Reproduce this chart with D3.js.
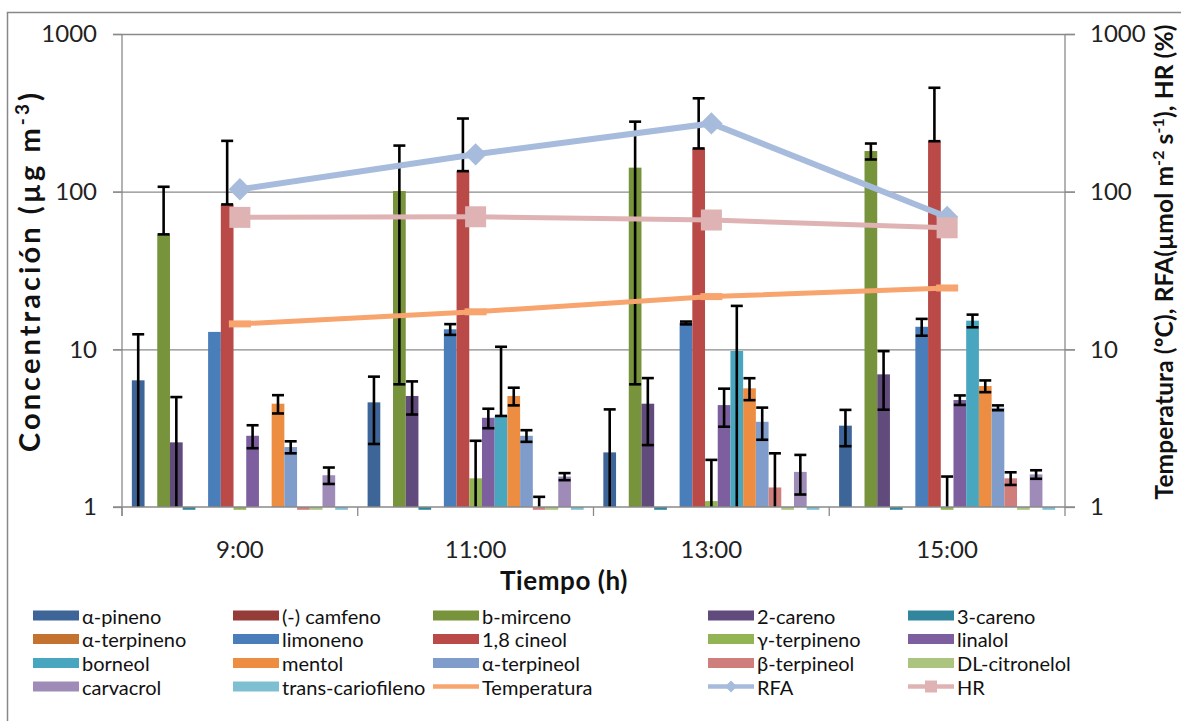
<!DOCTYPE html>
<html><head><meta charset="utf-8">
<script src="https://cdn.jsdelivr.net/npm/d3@7"></script>
<style>body{margin:0;background:#fff;} svg{display:block;}</style>
</head><body>
<svg id="chart" width="1181" height="721"></svg>
<script>
// ---------- DATA ----------
const times = ["9:00", "11:00", "13:00", "15:00"];
const compounds = ["α-pineno", "(-) camfeno", "b-mirceno", "2-careno", "3-careno",
  "α-terpineno", "limoneno", "1,8 cineol", "γ-terpineno", "linalol",
  "borneol", "mentol", "α-terpineol", "β-terpineol", "DL-citronelol",
  "carvacrol", "trans-cariofileno"];
const compoundColors = ["#3E6597", "#953B38", "#77933C", "#614A7C", "#31869D",
  "#C4722F", "#4A7EBB", "#BA4A48", "#93B454", "#7D5FA0",
  "#48A6BF", "#EC8D42", "#7F9CCB", "#D07E7C", "#ABC47F",
  "#9F8BB8", "#7FBFD2"];
// concentrations (µg m-3) per hour, in compound order (null = not shown)
const values0900 = [6.36, null, 53.6, 2.57, 0.96, null, 12.9, 83, 0.96, 2.83, null, 4.52, 2.40, 0.96, 0.96, 1.59, 0.96];
const values1100 = [4.61, null, 101, 5.06, 0.96, null, 13.4, 135, 1.52, 3.68, 3.78, 5.06, 2.83, 0.96, 0.96, 1.56, 0.96];
const values1300 = [2.22, null, 142, 4.52, 0.96, null, 14.7, 188, 1.09, 4.43, 9.76, 5.66, 3.47, 1.33, 0.96, 1.67, 0.96];
const values1500 = [3.28, null, 181, 6.94, 0.96, null, 13.9, 209, 0.96, 4.77, 15.2, 5.85, 4.26, 1.52, 0.96, 1.61, 0.96];
// error bar half-lengths
const errors0900 = [6.1, 0, 53.8, 2.41, 0, 0, 0, 127, 0, 0.47, 0, 0.6, 0.21, 0, 0, 0.19, 0];
const errors1100 = [2.1, 0, 95, 1.2, 0, 0, 1.05, 156, 1.11, 0.52, 6.6, 0.65, 0.24, 0.2, 0, 0.08, 0];
const errors1300 = [1.94, 0, 136, 2.05, 0, 0, 0.3, 203, 0.9, 1.2, 9.1, 0.9, 0.8, 0.86, 0, 0.47, 0];
const errors1500 = [0.85, 0, 21, 2.8, 0, 0, 1.7, 247, 0.6, 0.33, 1.4, 0.5, 0.15, 0.14, 0, 0.1, 0];
// line series (right axis)
const temperatura = [14.5, 17.3, 21.6, 24.5];
const rfa = [103.5, 172.5, 271, 69];
const hr = [68.7, 69.3, 66.1, 59.0];
const yTicks = [1, 10, 100, 1000];

const valuesByTime = [values0900, values1100, values1300, values1500];
const errorsByTime = [errors0900, errors1100, errors1300, errors1500];

// ---------- LAYOUT ----------
(function () {
const svg = d3.select("#chart");
const font = "Lato, 'Open Sans', sans-serif";
const pL = 122, pR = 1065, pT = 34, pB = 507;
const gridColor = "#8A8A8A";

svg.append("rect").attr("x", 0).attr("y", 0).attr("width", 1181).attr("height", 721).attr("fill", "#fff");
svg.append("rect").attr("x", 7.5).attr("y", 12.5).attr("width", 1185).attr("height", 720)
  .attr("fill", "none").attr("stroke", "#888").attr("stroke-width", 1.5);

const x0 = d3.scaleBand().domain(times).range([pL, pR]).paddingInner(0).paddingOuter(0);
const x1 = d3.scaleBand().domain(d3.range(compounds.length)).range([0, x0.bandwidth()])
  .paddingInner(0).paddingOuter(0.775);
const y = d3.scaleLog().domain([1, 1000]).range([pB, pT]);
const yR = d3.scaleLog().domain([1, 1000]).range([pB, pT]);

// gridlines
const grid = svg.append("g").attr("transform", `translate(${pL - 9},0)`)
  .call(d3.axisRight(y).tickValues(yTicks.slice(1)).tickSize(pR + 10 - (pL - 9)).tickFormat(""));
grid.select(".domain").remove();
grid.selectAll("line").attr("stroke", gridColor).attr("stroke-width", 1.3);

// bars
const barData = [];
times.forEach((t, ti) => {
  compounds.forEach((c, ci) => {
    const v = valuesByTime[ti][ci];
    if (v == null) return;
    barData.push({t, ci, v, e: errorsByTime[ti][ci]});
  });
});
svg.append("g").selectAll("rect").data(barData).join("rect")
  .attr("x", d => x0(d.t) + x1(d.ci))
  .attr("width", x1.bandwidth())
  .attr("y", d => Math.min(y(d.v), y(1)))
  .attr("height", d => Math.abs(y(d.v) - y(1)))
  .attr("fill", d => compoundColors[d.ci]);

// error bars
const eg = svg.append("g").attr("stroke", "#000").attr("stroke-width", 2.6);
barData.filter(d => d.e > 0).forEach(d => {
  const cx = x0(d.t) + x1(d.ci) + x1.bandwidth() / 2;
  const hw = 6;
  const yHi = y(d.v + d.e);
  const lo = d.v - d.e;
  let yLo, loCap;
  if (lo <= 0) { yLo = y(d.v); loCap = true; }
  else if (lo < 1) { yLo = y(1); loCap = false; }
  else { yLo = y(lo); loCap = true; }
  eg.append("line").attr("x1", cx).attr("x2", cx).attr("y1", yHi).attr("y2", yLo);
  eg.append("line").attr("x1", cx - hw).attr("x2", cx + hw).attr("y1", yHi).attr("y2", yHi);
  if (loCap) eg.append("line").attr("x1", cx - hw).attr("x2", cx + hw).attr("y1", yLo).attr("y2", yLo);
});

// axes lines
const ax = svg.append("g").attr("stroke", gridColor).attr("stroke-width", 1.3);
ax.append("line").attr("x1", pL).attr("x2", pL).attr("y1", pT).attr("y2", pB + 9);
ax.append("line").attr("x1", pR).attr("x2", pR).attr("y1", pT).attr("y2", pB + 9);
ax.append("line").attr("x1", pL - 9).attr("x2", pR + 10).attr("y1", pB).attr("y2", pB);
times.forEach(t => ax.append("line").attr("x1", x0(t)).attr("x2", x0(t)).attr("y1", pB).attr("y2", pB + 9));

// left axis labels
const yl = svg.append("g").attr("transform", `translate(${pL},0)`)
  .call(d3.axisLeft(y).tickValues(yTicks).tickFormat(d3.format("d")).tickSize(9).tickPadding(16));
yl.select(".domain").remove();
yl.selectAll("line").attr("stroke", gridColor).attr("stroke-width", 1.3);
yl.selectAll("text").attr("font-family", font).attr("font-size", 24).attr("fill", "#222");

// right axis labels
const yr = svg.append("g").attr("transform", `translate(${pR},0)`)
  .call(d3.axisRight(yR).tickValues(yTicks).tickFormat(d3.format("d")).tickSize(10).tickPadding(15));
yr.select(".domain").remove();
yr.selectAll("line").attr("stroke", gridColor).attr("stroke-width", 1.3);
yr.selectAll("text").attr("font-family", font).attr("font-size", 24).attr("fill", "#222");

// x labels
const xl = svg.append("g").attr("transform", `translate(0,${pB})`)
  .call(d3.axisBottom(x0).tickSize(0).tickPadding(34));
xl.select(".domain").remove();
xl.selectAll("text").attr("font-family", font).attr("font-size", 24).attr("fill", "#222");

// lines
const cxOf = i => x0(times[i]) + x0.bandwidth() / 2;
const line = d3.line().x((d, i) => cxOf(i)).y(d => yR(d));
svg.append("path").datum(temperatura).attr("d", line).attr("fill", "none")
  .attr("stroke", "#F8A46E").attr("stroke-width", 5);
svg.append("g").selectAll("rect").data(temperatura).join("rect")
  .attr("x", (d, i) => cxOf(i) - 11).attr("y", d => yR(d) - 3.5).attr("width", 22).attr("height", 7)
  .attr("fill", "#F8A46E");
svg.append("path").datum(rfa).attr("d", line).attr("fill", "none")
  .attr("stroke", "#A7BBDC").attr("stroke-width", 6);
svg.append("g").selectAll("path").data(rfa).join("path")
  .attr("d", d3.symbol(d3.symbolDiamond2 || d3.symbolDiamond, 320))
  .attr("transform", (d, i) => `translate(${cxOf(i)},${yR(d)})`)
  .attr("fill", "#A7BBDC");
svg.append("path").datum(hr).attr("d", line).attr("fill", "none")
  .attr("stroke", "#DFB3B3").attr("stroke-width", 5);
svg.append("g").selectAll("rect").data(hr).join("rect")
  .attr("x", (d, i) => cxOf(i) - 10.5).attr("y", d => yR(d) - 10.5).attr("width", 21).attr("height", 21)
  .attr("fill", "#DFB3B3");

// titles
function fitSpacing(sel, target, nChars) {
  const len = sel.node().getComputedTextLength();
  if (len > 0) sel.attr("letter-spacing", (target - len) / nChars);
}
const lt = svg.append("text").attr("transform", "translate(40,271) rotate(-90)")
  .attr("text-anchor", "middle").attr("font-family", font).attr("font-weight", "bold")
  .attr("font-size", 29).attr("fill", "#111");
lt.append("tspan").text("Concentración (µg m");
lt.append("tspan").attr("baseline-shift", "super").attr("font-size", "65%").text("-3");
lt.append("tspan").text(")");
fitSpacing(lt, 362, 22);

const rt = svg.append("text").attr("transform", "translate(1173,262) rotate(-90)")
  .attr("text-anchor", "middle").attr("font-family", font).attr("font-weight", "bold")
  .attr("font-size", 24.5).attr("fill", "#111");
rt.append("tspan").text("Temperatura (ºC), RFA(µmol m");
rt.append("tspan").attr("baseline-shift", "super").attr("font-size", "65%").text("-2");
rt.append("tspan").text(" s");
rt.append("tspan").attr("baseline-shift", "super").attr("font-size", "65%").text("-1");
rt.append("tspan").text("), HR (%)");
fitSpacing(rt, 475, 43);

const bt = svg.append("text").attr("x", 564).attr("y", 590).attr("text-anchor", "middle")
  .attr("font-family", font).attr("font-weight", "bold").attr("font-size", 26).attr("fill", "#111")
  .text("Tiempo (h)");
fitSpacing(bt, 128, 10);

// legend
const legendItems = compounds.map((c, i) => ({name: c, type: "bar", color: compoundColors[i]}))
  .concat([{name: "Temperatura", type: "line", color: "#F8A46E"},
           {name: "RFA", type: "diamond", color: "#A7BBDC"},
           {name: "HR", type: "square", color: "#DFB3B3"}]);
const colX = [33, 233, 433, 708, 908];
const rowY = [615.5, 639, 663, 686.5];
const lg = svg.append("g");
legendItems.forEach((it, i) => {
  const cx = colX[i % 5], cy = rowY[Math.floor(i / 5)];
  const g = lg.append("g").attr("transform", `translate(${cx},${cy})`);
  if (it.type === "bar") {
    g.append("rect").attr("x", 0).attr("y", -5).attr("width", 46).attr("height", 10).attr("fill", it.color);
  } else {
    g.append("line").attr("x1", 0).attr("x2", 46).attr("y1", 0).attr("y2", 0)
      .attr("stroke", it.color).attr("stroke-width", 4.5);
    if (it.type === "diamond") g.append("path").attr("d", d3.symbol(d3.symbolDiamond2 || d3.symbolDiamond, 90)).attr("transform", "translate(23,0)").attr("fill", it.color);
    if (it.type === "square") g.append("rect").attr("x", 17).attr("y", -6).attr("width", 12).attr("height", 12).attr("fill", it.color);
  }
  g.append("text").attr("x", 49).attr("y", 8).attr("font-family", font).attr("font-size", 20)
    .attr("fill", "#111").text(it.name);
});
})();
</script>
</body></html>
